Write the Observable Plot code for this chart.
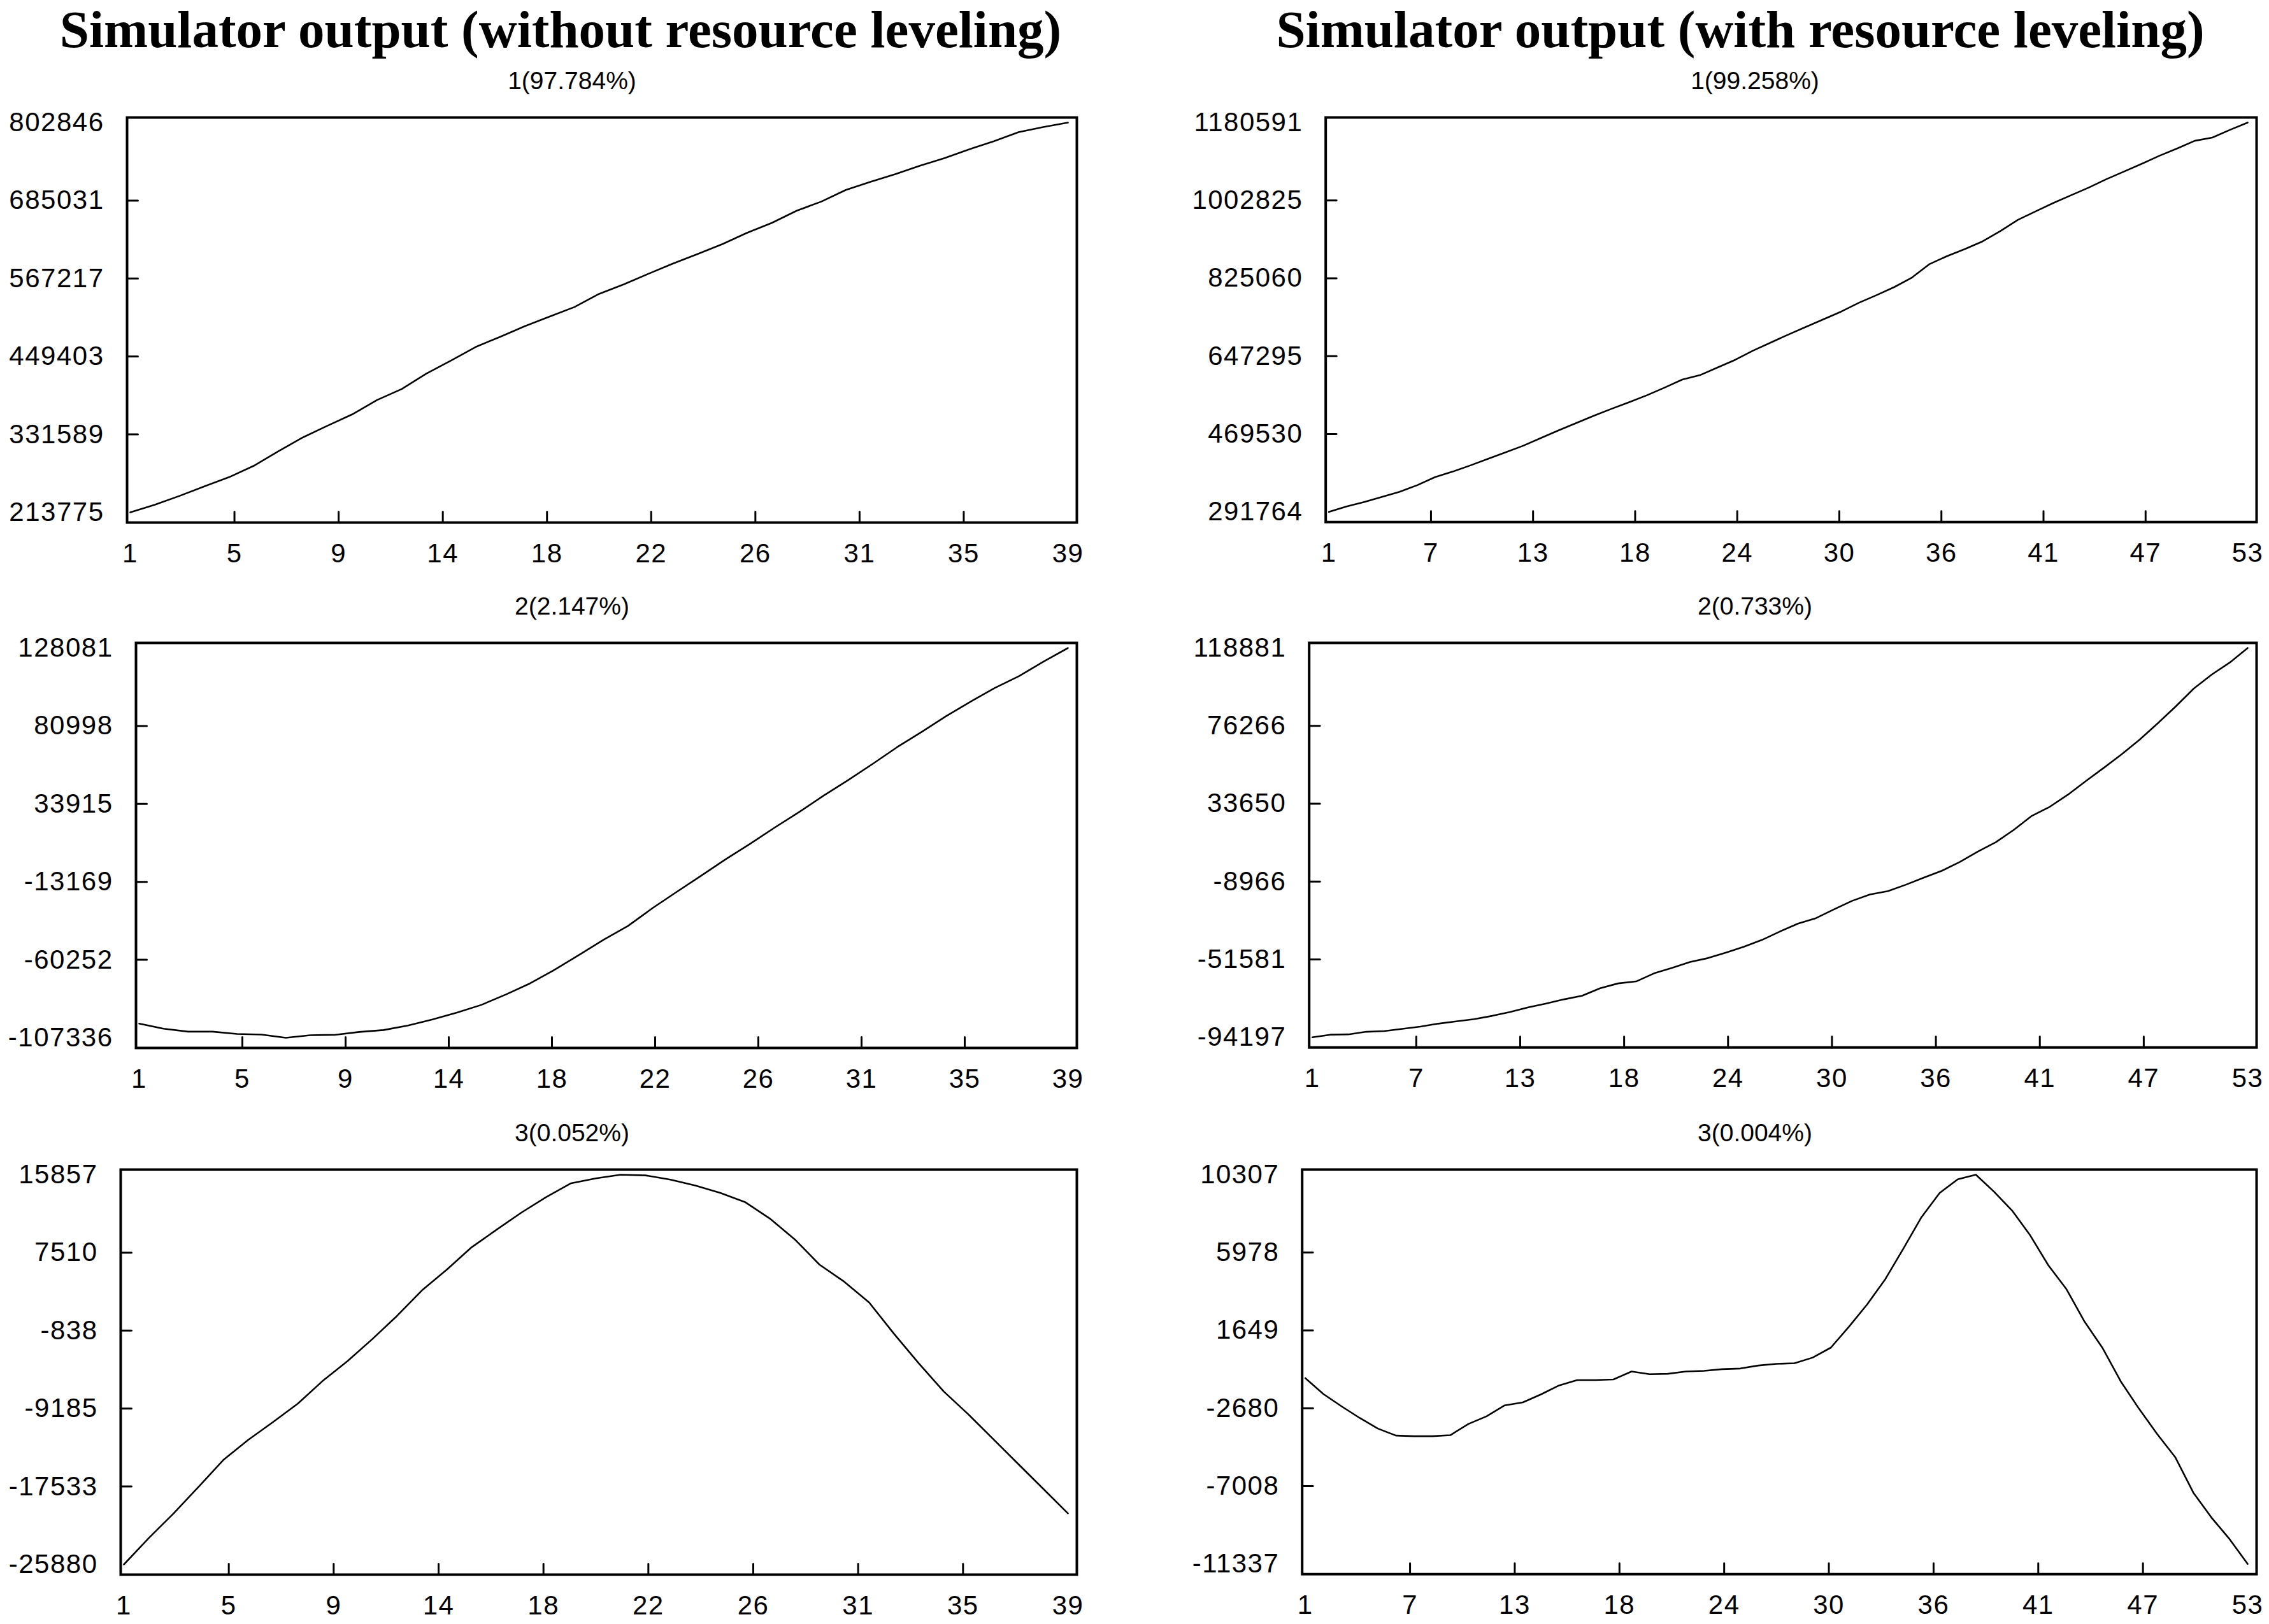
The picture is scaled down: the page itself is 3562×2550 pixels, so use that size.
<!DOCTYPE html>
<html>
<head>
<meta charset="utf-8">
<script src="https://cdn.jsdelivr.net/npm/d3@7"></script>
<script src="https://cdn.jsdelivr.net/npm/@observablehq/plot@0.6"></script>
<style>
  html, body { margin: 0; padding: 0; background: #fff; }
  #page { position: relative; width: 3562px; height: 2550px; background: #fff; overflow: hidden; }
  .title { position: absolute; width: 2000px; text-align: center; font-family: "Liberation Serif", "Times New Roman", serif; font-weight: bold; font-size: 83px; line-height: 83px; color: #000; white-space: nowrap; }
  .sub { position: absolute; width: 600px; text-align: center; font-family: "Liberation Sans", Arial, sans-serif; font-size: 39px; line-height: 39px; color: #000; white-space: nowrap; }
  .panel { position: absolute; }
</style>
</head>
<body>
<div id="page"></div>
<script>
// ---------- titles ----------
const titleLeft = "Simulator output (without resource leveling)";
const titleRight = "Simulator output (with resource leveling)";

// ---------- subtitles ----------
const subsLeft = ["1(97.784%)", "2(2.147%)", "3(0.052%)"];
const subsRight = ["1(99.258%)", "2(0.733%)", "3(0.004%)"];

// ---------- x tick labels ----------
const xLabelsLeft = [1, 5, 9, 14, 18, 22, 26, 31, 35, 39];
const xLabelsRight = [1, 7, 13, 18, 24, 30, 36, 41, 47, 53];

// ---------- y tick labels ----------
const yTicksL1 = [213775, 331589, 449403, 567217, 685031, 802846];
const yTicksL2 = [-107336, -60252, -13169, 33915, 80998, 128081];
const yTicksL3 = [-25880, -17533, -9185, -838, 7510, 15857];
const yTicksR1 = [291764, 469530, 647295, 825060, 1002825, 1180591];
const yTicksR2 = [-94197, -51581, -8966, 33650, 76266, 118881];
const yTicksR3 = [-11337, -7008, -2680, 1649, 5978, 10307];

// ---------- series (without resource leveling, 39 periods) ----------
const pc1Without = [213775, 225390, 238665, 253045, 266873, 284019, 306143, 327161, 344860, 361991,
  383577, 400170, 423400, 443311, 463776, 479263, 495304, 509684, 524065, 543976,
  558357, 574397, 589884, 604265, 619199, 636345, 651279, 669531, 683358, 701057,
  713226, 724848, 737571, 749186, 762461, 774629, 788457, 796200, 802846];
const pc2Without = [-98769, -101884, -103637, -103637, -104999, -105389, -107336, -105778, -105584, -103831,
  -102663, -99937, -96238, -92149, -87477, -81246, -74432, -66254, -57298, -48147,
  -39775, -29067, -19137, -9401, 526, 9873, 19608, 28954, 38884, 48230,
  57965, 68089, 77240, 86781, 95543, 103915, 111117, 119879, 128081];
const pc3Without = [-25880, -23058, -20412, -17589, -14696, -12544, -10639, -8663, -6229, -4112,
  -1748, 756, 3473, 5696, 8094, 9964, 11799, 13457, 14939, 15468,
  15857, 15780, 15327, 14692, 13916, 12928, 11164, 8942, 6225, 4390,
  2168, -1184, -4359, -7358, -9827, -12474, -15120, -17766, -20412];

// ---------- series (with resource leveling, 53 periods) ----------
const pc1With = [291764, 304283, 314298, 325983, 337667, 352690, 371051, 383570, 397758, 412781,
  427804, 442827, 460353, 477880, 494572, 511264, 527121, 542144, 558001, 575528,
  593889, 603904, 621431, 638957, 659823, 678184, 696545, 714072, 731598, 749125,
  769156, 786682, 805043, 826743, 857643, 875984, 891841, 909368, 932737, 958609,
  977805, 997001, 1014528, 1032054, 1051250, 1068777, 1086303, 1104664, 1121356, 1138883,
  1146394, 1163923, 1180591];
const pc2With = [-94197, -92775, -92598, -91176, -90821, -89577, -88333, -86734, -85490, -84246,
  -82469, -80337, -77849, -75716, -73406, -71452, -67365, -64699, -63633, -59190,
  -56169, -52971, -50838, -47818, -44619, -40887, -36268, -31978, -28981, -24183,
  -19563, -16009, -14232, -10678, -6769, -3037, 1761, 7447, 12601, 19356,
  27000, 31970, 38545, 46011, 53294, 60757, 68751, 77625, 86875, 96645,
  104296, 110870, 118881];
const pc3With = [-1005, -1891, -2573, -3219, -3809, -4197, -4234, -4234, -4178, -3551,
  -3127, -2518, -2352, -1909, -1411, -1116, -1116, -1079, -636, -784,
  -765, -636, -599, -507, -470, -304, -212, -175, 139, 692,
  1855, 3091, 4493, 6191, 7943, 9290, 10050, 10307, 9364, 8312,
  6929, 5268, 3940, 2132, 656, -1190, -2702, -4105, -5396, -7370,
  -8754, -9953, -11337];

// ---------- layout ----------
const page = document.getElementById("page");
const colX = [0, 1781];
const frameRight = [1690, 3544];
const rowTop = [184, 1009, 1836];
const frameH = 636;
const frameLeft = [[199, 213, 189], [2081, 2055, 2044]];

function addDiv(cls, text, left, top) {
  const d = document.createElement("div");
  d.className = cls;
  d.textContent = text;
  d.style.left = left + "px";
  d.style.top = top + "px";
  page.appendChild(d);
}
addDiv("title", titleLeft, 880 - 1000, 5);
addDiv("title", titleRight, 2732 - 1000, 5);

const tickShape = { draw(context, l) { context.moveTo(0, 0); context.lineTo(0, -l); } };

function panel(col, row, values, yTicks, xLabels, sub) {
  const n = values.length;
  const data = values.map((v, k) => ({ i: k + 1, v }));
  const xPos = xLabels.map((_, k) => 1 + k * (n - 1) / (xLabels.length - 1));
  const xLabelOf = new Map(xPos.map((p, k) => [p, xLabels[k]]));
  const left = colX[col];
  const mTop = 40, mBottom = 110, mRight = 20;
  const mLeft = frameLeft[col][row] - left;
  const width = frameRight[col] - left + mRight;
  const height = mTop + frameH + mBottom;
  const chart = Plot.plot({
    width, height,
    marginTop: mTop, marginBottom: mBottom, marginLeft: mLeft, marginRight: mRight,
    x: { domain: [1, n], insetLeft: 5, insetRight: 14 },
    y: { domain: [yTicks[0], yTicks[yTicks.length - 1]], insetTop: 8, insetBottom: 16 },
    style: { fontFamily: "'Liberation Sans', Arial, sans-serif", fontSize: "42px", letterSpacing: "1.5px", background: "white", color: "black", overflow: "visible" },
    marks: [
      Plot.axisY({ ticks: yTicks, tickSize: 0, tickPadding: 36, fontSize: 42, tickFormat: d => String(d), label: null }),
      Plot.axisX({ ticks: xPos, tickSize: 0, tickPadding: 33, fontSize: 42, tickFormat: d => String(xLabelOf.get(d)), label: null }),
      Plot.vector(xPos.slice(1, -1), { x: d => d, frameAnchor: "bottom", length: 17, anchor: "start", shape: tickShape, stroke: "black", strokeWidth: 3 }),
      Plot.vector(yTicks.slice(1, -1), { y: d => d, frameAnchor: "left", rotate: 90, length: 17, anchor: "start", shape: tickShape, stroke: "black", strokeWidth: 3 }),
      Plot.line(data, { x: "i", y: "v", stroke: "black", strokeWidth: 2.6 }),
      Plot.frame({ stroke: "black", strokeWidth: 4 })
    ]
  });
  const wrap = document.createElement("div");
  wrap.className = "panel";
  wrap.style.left = left + "px";
  wrap.style.top = (rowTop[row] - mTop) + "px";
  wrap.appendChild(chart);
  page.appendChild(wrap);
  const subCenter = col === 0 ? 898 : 2755;
  addDiv("sub", sub, subCenter - 300, rowTop[row] - 77);
}

panel(0, 0, pc1Without, yTicksL1, xLabelsLeft, subsLeft[0]);
panel(0, 1, pc2Without, yTicksL2, xLabelsLeft, subsLeft[1]);
panel(0, 2, pc3Without, yTicksL3, xLabelsLeft, subsLeft[2]);
panel(1, 0, pc1With, yTicksR1, xLabelsRight, subsRight[0]);
panel(1, 1, pc2With, yTicksR2, xLabelsRight, subsRight[1]);
panel(1, 2, pc3With, yTicksR3, xLabelsRight, subsRight[2]);
</script>
</body>
</html>
